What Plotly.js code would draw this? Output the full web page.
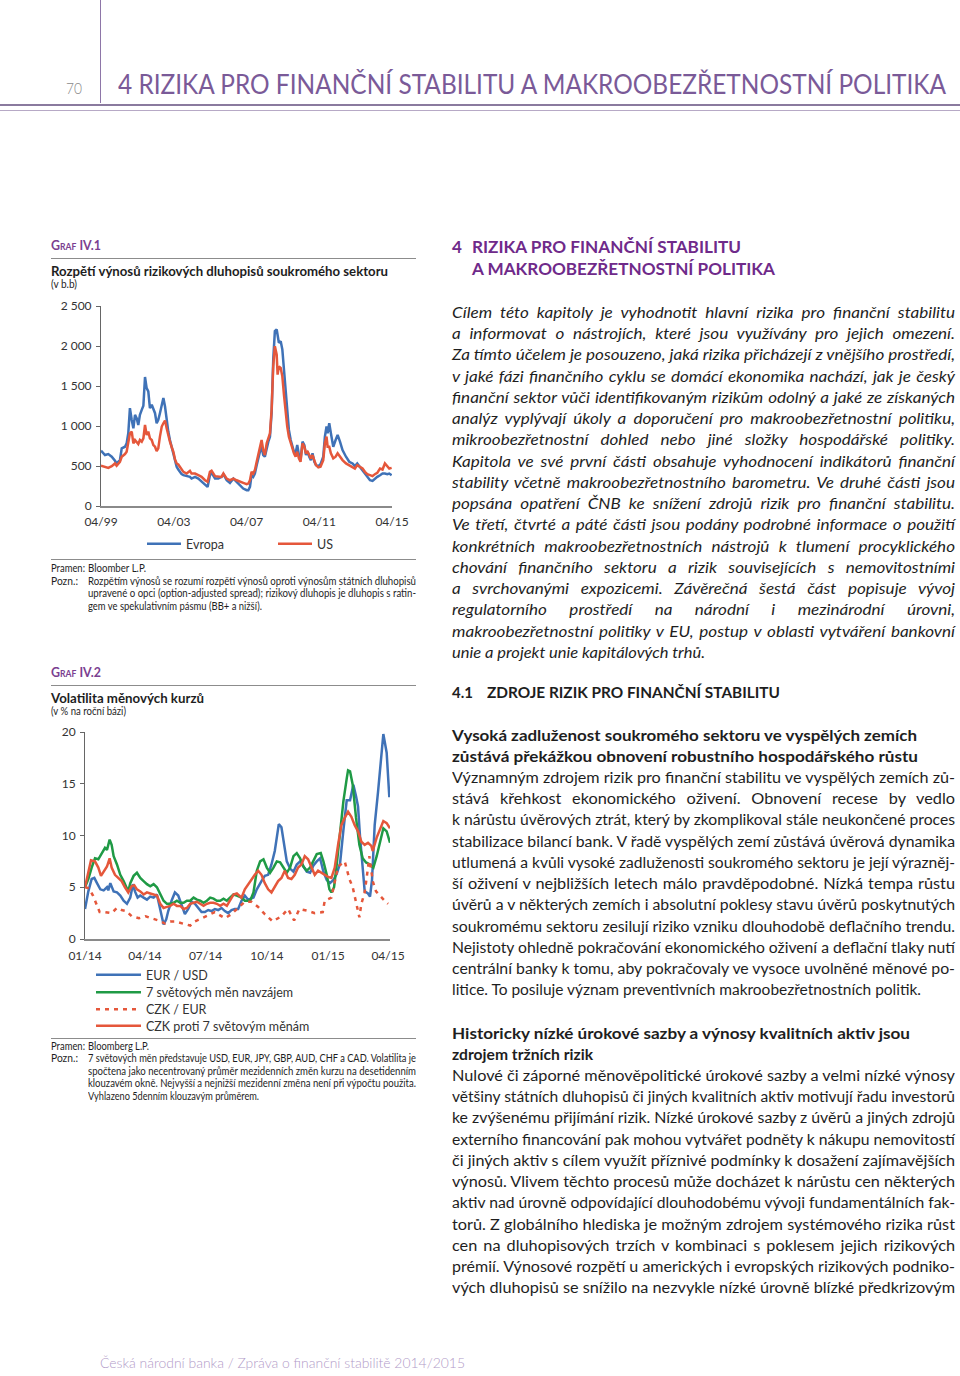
<!DOCTYPE html>
<html><head><meta charset="utf-8">
<script src="https://cdn.plot.ly/plotly-3.0.1.min.js"></script>
<style>
html,body{margin:0;padding:0;background:#fff;}
#page{position:relative;width:960px;height:1376px;overflow:hidden;font-family:Lato,"Open Sans",sans-serif;color:#1e1e1e;}
.t{position:absolute;white-space:nowrap;}
.t span{display:inline-block;transform-origin:0 50%;}
.rule{position:absolute;}
.pl{position:absolute;}
</style></head><body><div id="page">
<div class="pl" id="chart1" style="left:0;top:290px;width:440px;height:270px"></div>
<div class="pl" id="chart2" style="left:0;top:720px;width:440px;height:330px"></div>
</div>
<script>
// ---------- Graf IV.1 data (decimal years, basis points) ----------
const spreadYears = [1999.25,1999.47,1999.65,1999.84,2000.02,2000.11,2000.29,2000.39,2000.57,2000.66,
2000.75,2000.84,2000.94,2001.03,2001.12,2001.21,2001.30,2001.39,2001.49,2001.58,
2001.67,2001.76,2001.85,2001.94,2002.04,2002.13,2002.22,2002.31,2002.40,2002.49,
2002.59,2002.68,2002.77,2002.86,2002.95,2003.04,2003.13,2003.23,2003.32,2003.41,
2003.50,2003.59,2003.68,2003.78,2003.96,2004.14,2004.23,2004.42,2004.60,2004.78,
2004.97,2005.11,2005.24,2005.33,2005.52,2005.70,2005.88,2005.98,2006.16,2006.34,
2006.53,2006.71,2006.89,2007.07,2007.26,2007.35,2007.44,2007.53,2007.62,2007.71,
2007.81,2007.90,2007.99,2008.08,2008.17,2008.26,2008.36,2008.45,2008.54,2008.63,
2008.72,2008.81,2008.91,2008.96,2009.03,2009.13,2009.22,2009.31,2009.40,2009.49,
2009.58,2009.68,2009.77,2009.86,2009.95,2010.04,2010.13,2010.22,2010.33,2010.43,
2010.52,2010.61,2010.70,2010.79,2010.88,2010.98,2011.07,2011.20,2011.32,2011.47,
2011.56,2011.65,2011.71,2011.80,2011.89,2012.02,2012.15,2012.26,2012.39,2012.53,
2012.72,2012.90,2013.08,2013.21,2013.34,2013.49,2013.63,2013.76,2013.89,2014.04,
2014.18,2014.31,2014.44,2014.59,2014.73,2014.86,2014.99,2015.10,2015.23];
const spreadEvropa = [691,637,649,616,565,532,574,720,741,783,
909,1223,1076,972,1139,1097,1013,1139,1202,1252,
1612,1474,1432,1223,1265,1223,1160,1034,1076,1160,
1244,1349,1244,1055,930,825,741,637,553,490,
456,427,398,385,377,364,343,364,343,302,
272,239,385,415,343,343,364,398,322,289,
343,302,260,218,197,197,239,385,364,406,
511,616,678,741,637,616,741,804,867,1160,
1830,2186,2207,2123,2040,2061,1956,1705,1453,1160,
951,825,741,678,658,762,637,574,804,762,
637,678,616,574,658,553,511,498,523,616,
867,993,909,1034,909,741,825,888,804,699,
616,553,532,498,532,490,448,406,364,322,
314,343,364,385,406,406,398,406,385];
const spreadUS = [503,490,477,498,532,503,553,616,649,678,
825,909,930,783,825,804,775,825,804,846,
1013,888,930,846,825,762,741,687,720,867,
993,1034,1068,972,867,804,741,678,582,532,
519,490,448,427,406,440,406,406,385,364,
322,302,427,440,373,364,364,406,343,322,
343,322,302,289,272,281,322,427,406,448,
553,658,741,825,699,637,783,846,909,1202,
1746,1998,1893,1642,1746,1725,1621,1390,1181,993,
867,783,720,658,616,678,595,553,783,741,
658,678,637,595,637,574,511,482,490,574,
783,867,741,741,658,595,616,658,616,574,
532,511,490,469,511,490,469,427,398,385,
373,398,415,469,456,532,490,469,477];
const spreadTickVals = [1999.25,2003.25,2007.25,2011.25,2015.25];
const spreadTickText = ['04/99','04/03','04/07','04/11','04/15'];
const spreadYTicks = [0,500,1000,1500,2000,2500];
const spreadYText = ['0','500','1 000','1 500','2 000','2 500'];

// ---------- Graf IV.2 data (days since 1.1.2014, % p.a.) ----------
const eurUsdDays = [0,5,10,14,18,23,28,33,35,38,43,48,53,58,63,68,72,75,79,83,
88,93,98,103,108,113,118,122,125,130,135,140,145,150,155,160,165,170,175,180,
185,190,195,200,205,210,215,220,225,230,235,240,245,253,258,265,270,275,280,285,
288,291,295,299,303,308,313,318,323,328,333,338,343,348,353,358,363,368,373,378,
383,388,393,398,403,407,410,413,416,420,425,428,431,435,440,444,448,453,457];
const eurUsdVol = [2.9,4.6,5.8,5.9,5.4,4.8,4.7,5.0,4.7,5.4,
4.6,4.5,4.2,3.7,3.4,4.0,5.3,4.6,4.0,4.2,
4.0,3.8,4.1,4.0,4.3,2.9,1.4,1.9,2.7,3.7,
4.5,4.2,3.2,2.4,2.9,3.6,3.4,3.0,2.6,2.6,
2.8,2.7,2.9,2.8,3.0,2.7,2.5,2.8,2.9,2.9,
3.7,4.2,3.8,4.0,4.8,5.6,6.1,6.2,7.2,8.5,
9.8,11.1,10.8,9.0,7.5,6.8,6.5,7.2,7.5,7.0,
6.5,6.4,7.1,7.5,7.8,6.5,5.7,5.4,5.7,6.3,
7.3,10.5,13.4,13.4,14.9,13.8,12.8,9.9,7.6,4.6,
4.4,4.1,5.7,11.0,14.2,17.4,19.8,18.0,13.7];
const world7Days = [0,5,10,15,20,25,30,33,37,40,43,48,53,58,63,65,68,73,78,83,
88,93,98,103,108,113,118,123,128,133,138,143,148,153,158,163,168,173,178,183,
188,193,198,203,208,213,218,223,228,235,240,248,253,258,263,268,273,278,283,288,
293,298,303,308,313,318,323,328,333,338,343,348,354,358,363,367,370,374,378,383,
388,393,395,398,402,407,412,417,422,428,433,438,443,448,453,458];
const world7Vol = [5.0,5.8,6.9,7.8,7.7,8.3,8.8,8.6,9.6,9.1,
8.0,7.2,6.2,5.6,4.8,4.6,5.4,6.1,6.4,5.9,
5.6,5.3,5.1,5.3,5.0,4.3,3.7,3.4,3.4,3.5,
3.7,3.5,3.5,3.7,3.7,4.0,3.8,3.7,3.5,3.7,
4.0,3.9,3.7,3.7,3.9,3.7,4.0,4.3,4.2,4.0,
3.7,3.7,4.5,6.6,7.5,7.7,6.9,6.4,6.9,7.5,
7.4,6.9,6.4,6.9,8.0,8.3,7.8,7.0,6.6,6.9,
7.5,8.2,8.3,7.5,6.2,4.8,4.5,5.0,7.2,10.1,
13.3,15.5,16.3,16.2,14.9,11.7,9.1,7.8,7.4,7.2,
6.9,8.0,9.3,10.7,10.4,9.3];
const czkEurDays = [0,6,12,17,22,30,40,48,55,62,70,81,91,100,110,120,128,135,148,158,
165,175,183,195,210,220,228,240,250,260,270,282,295,305,314,322,336,345,357,360,
370,375,380,390,397,402,407,412,415,420,425,427,432,437,450,455];
const czkEurVol = [5.0,4.9,4.2,3.4,2.6,2.6,2.5,3.0,2.8,2.7,
2.2,2.0,2.2,2.0,1.8,1.5,1.7,1.7,1.5,1.3,
1.7,2.0,2.3,2.6,2.0,2.4,2.9,3.6,3.6,3.1,
2.4,1.7,2.2,2.9,1.8,2.9,2.7,2.5,2.6,3.7,
4.0,5.6,7.0,7.5,5.8,5.0,3.4,2.1,3.4,4.5,
6.9,8.0,5.6,4.6,3.7,3.4];
const czk7Days = [0,5,9,15,20,24,29,33,37,40,45,50,55,60,65,70,74,78,83,88,
93,98,103,108,113,118,123,128,133,138,143,148,153,158,163,168,173,178,183,188,
193,198,203,208,213,218,223,228,230,235,240,245,250,255,260,265,270,275,
280,285,290,295,300,305,310,315,320,325,330,335,340,345,350,355,360,365,370,375,
380,385,390,395,400,405,410,415,420,425,430,432,438,443,448,453,458];
const czk7Vol = [5.0,6.4,7.6,7.5,6.9,6.1,6.6,7.0,7.8,6.9,
6.2,5.9,5.6,5.0,4.5,5.1,5.2,4.8,4.6,4.3,
4.5,4.4,4.3,4.2,3.4,3.0,3.1,3.2,3.4,3.2,
3.2,2.9,3.0,3.4,3.5,3.6,3.4,3.2,3.4,3.5,
3.5,3.4,3.2,3.4,3.2,3.8,4.3,4.4,
4.3,4.0,4.8,5.3,5.8,6.2,6.6,6.2,5.4,4.8,
4.5,5.0,5.6,5.9,6.6,5.9,5.8,6.2,6.9,7.2,
8.0,7.7,6.9,6.2,6.6,6.4,6.2,6.0,5.9,6.9,
9.1,11.0,11.7,12.3,11.8,11.0,10.4,9.4,9.1,9.3,
9.0,8.5,9.8,10.7,11.4,11.2,10.7];
const volTickVals = [0,90,181,273,365,455];
const volTickText = ['01/14','04/14','07/14','10/14','01/15','04/15'];
const volSeriesNames = ['EUR / USD','7 světových měn navzájem','CZK / EUR','CZK proti 7 světovým měnám'];

const BLUE='#3f72b7', RED='#e5573b', GREEN='#1f9a45';
const FONT='Lato, "Open Sans", sans-serif';

// ---------- page text ----------
const page=document.getElementById('page');
function rule(x,y,w,h,c){const d=document.createElement('div');d.className='rule';
 Object.assign(d.style,{left:x+'px',top:y+'px',width:w+'px',height:h+'px',background:c});page.appendChild(d);}
const ST={
 head:{fs:26,fw:400,c:'#7a5a98'},
 pnum:{fs:16,fw:300,c:'#8a8a8a'},
 foot:{fs:14,fw:300,c:'#b29bc8'},
 graf:{fs:13,fw:700,c:'#7b3f91',sc:true},
 ctit:{fs:13.5,fw:700,c:'#1e1e1e'},
 unit:{fs:10.5,fw:400,c:'#1e1e1e'},
 note:{fs:11.5,fw:400,c:'#1e1e1e',mx:1.0},
 rhead:{fs:17,fw:700,c:'#6f2a8a'},
 sec:{fs:15,fw:700,c:'#1e1e1e'},
 sub:{fs:15.5,fw:700,c:'#1e1e1e'},
 ital:{fs:15.5,fw:400,it:true,c:'#1e1e1e',mx:1.1},
 body:{fs:15.5,fw:400,c:'#1e1e1e',mx:1.05}
};
function put(x,yc,w,txt,st,just){
 const d=document.createElement('div');d.className='t';
 Object.assign(d.style,{left:x+'px',top:(yc-0.65*st.fs)+'px',fontSize:st.fs+'px',lineHeight:(1.2*st.fs)+'px',
  fontWeight:st.fw,fontStyle:st.it?'italic':'normal',color:st.c,fontVariant:st.sc?'small-caps':'normal'});
 const s=document.createElement('span');s.textContent=txt;d.appendChild(s);page.appendChild(d);
 if(w){const nat=s.getBoundingClientRect().width;
  const n=(txt.match(/ /g)||[]).length;
  if(just&&nat<w&&n){
   const sc=Math.min(w/nat,st.mx||1);
   s.style.transform='scaleX('+sc+')';
   s.style.wordSpacing=((w/sc-nat)/n)+'px';
  } else if(nat>0){s.style.transform='scaleX('+(w/nat)+')';}}
}
// header
rule(100,0,1,103,'#8e76a8');
rule(0,104,960,1.5,'#8a7a9e');
rule(0,110,960,1,'#b7a9c6');
put(66,88,16,'70',ST.pnum,false);
put(118,86,828,'4 RIZIKA PRO FINANČNÍ STABILITU A MAKROOBEZŘETNOSTNÍ POLITIKA',ST.head,false);
put(100,1364,365,'Česká národní banka / Zpráva o finanční stabilitě 2014/2015',ST.foot,false);
// left column – graf IV.1
put(51,246,50,'Graf IV.1',ST.graf,false);
rule(51,257.5,365,1,'#8c8c8c');
put(51,272,337,'Rozpětí výnosů rizikových dluhopisů soukromého sektoru',ST.ctit,false);
put(51,285,26,'(v b.b)',ST.unit,false);
rule(51,559,365,1,'#8c8c8c');
put(51,568,34,'Pramen:',ST.note,false);
put(88,568,58,'Bloomber L.P.',ST.note,false);
put(51,581,27,'Pozn.:',ST.note,false);
const note1=['Rozpětím výnosů se rozumí rozpětí výnosů oproti výnosům státních dluhopisů',
 'upravené o opci (option-adjusted spread); rizikový dluhopis je dluhopis s ratin-',
 'gem ve spekulativním pásmu (BB+ a nižší).'];
put(88,581,328,note1[0],ST.note,true);
put(88,593.5,328,note1[1],ST.note,true);
put(88,606,174,note1[2],ST.note,false);
// left column – graf IV.2
put(51,673,50,'Graf IV.2',ST.graf,false);
rule(51,684.5,365,1,'#8c8c8c');
put(51,699,153,'Volatilita měnových kurzů',ST.ctit,false);
put(51,712,75,'(v % na roční bázi)',ST.unit,false);
rule(51,1037.5,365,1,'#8c8c8c');
put(51,1046,34,'Pramen:',ST.note,false);
put(88,1046,61,'Bloomberg L.P.',ST.note,false);
put(51,1058.5,27,'Pozn.:',ST.note,false);
const note2=['7 světových měn představuje USD, EUR, JPY, GBP, AUD, CHF a CAD. Volatilita je',
 'spočtena jako necentrovaný průměr mezidenních změn kurzu na desetidenním',
 'klouzavém okně. Nejvyšší a nejnižší mezidenní změna není při výpočtu použita.',
 'Vyhlazeno 5denním klouzavým průměrem.'];
put(88,1058.5,328,note2[0],ST.note,true);
put(88,1071,328,note2[1],ST.note,true);
put(88,1083.5,328,note2[2],ST.note,true);
put(88,1096,171,note2[3],ST.note,false);
// right column
put(452,248,null,'4',ST.rhead,false);
put(472,248,269,'RIZIKA PRO FINANČNÍ STABILITU',ST.rhead,false);
put(472,270,303,'A MAKROOBEZŘETNOSTNÍ POLITIKA',ST.rhead,false);
const intro=['Cílem této kapitoly je vyhodnotit hlavní rizika pro finanční stabilitu',
'a informovat o nástrojích, které jsou využívány pro jejich omezení.',
'Za tímto účelem je posouzeno, jaká rizika přicházejí z vnějšího prostředí,',
'v jaké fázi finančního cyklu se domácí ekonomika nachází, jak je český',
'finanční sektor vůči identifikovaným rizikům odolný a jaké ze získaných',
'analýz vyplývají úkoly a doporučení pro makroobezřetnostní politiku,',
'mikroobezřetnostní dohled nebo jiné složky hospodářské politiky.',
'Kapitola ve své první části obsahuje vyhodnocení indikátorů finanční',
'stability včetně makroobezřetnostního barometru. Ve druhé části jsou',
'popsána opatření ČNB ke snížení zdrojů rizik pro finanční stabilitu.',
'Ve třetí, čtvrté a páté části jsou podány podrobné informace o použití',
'konkrétních makroobezřetnostních nástrojů k tlumení procyklického',
'chování finančního sektoru a rizik souvisejících s nemovitostními',
'a svrchovanými expozicemi. Závěrečná šestá část popisuje vývoj',
'regulatorního prostředí na národní i mezinárodní úrovni,',
'makroobezřetnostní politiky v EU, postup v oblasti vytváření bankovní',
'unie a projekt unie kapitálových trhů.'];
intro.forEach((t,i)=>{const last=i===intro.length-1;put(452,313+21.25*i,last?253:503,t,ST.ital,!last);});
put(452,693,null,'4.1',ST.sec,false);
put(487,693,293,'ZDROJE RIZIK PRO FINANČNÍ STABILITU',ST.sec,false);
put(452,736,465,'Vysoká zadluženost soukromého sektoru ve vyspělých zemích',ST.sub,false);
put(452,757,466,'zůstává překážkou obnovení robustního hospodářského růstu',ST.sub,false);
const parA=['Významným zdrojem rizik pro finanční stabilitu ve vyspělých zemích zů-',
'stává křehkost ekonomického oživení. Obnovení recese by vedlo',
'k nárůstu úvěrových ztrát, který by zkomplikoval stále neukončené proces',
'stabilizace bilancí bank. V řadě vyspělých zemí zůstává úvěrová dynamika',
'utlumená a kvůli vysoké zadluženosti soukromého sektoru je její výrazněj-',
'ší oživení v nejbližších letech málo pravděpodobné. Nízká tempa růstu',
'úvěrů a v některých zemích i absolutní poklesy stavu úvěrů poskytnutých',
'soukromému sektoru zesilují riziko vzniku dlouhodobě deflačního trendu.',
'Nejistoty ohledně pokračování ekonomického oživení a deflační tlaky nutí',
'centrální banky k tomu, aby pokračovaly ve vysoce uvolněné měnové po-',
'litice. To posiluje význam preventivních makroobezřetnostních politik.'];
parA.forEach((t,i)=>{const last=i===parA.length-1;put(452,778+21.25*i,last?469:503,t,ST.body,!last);});
put(452,1034,458,'Historicky nízké úrokové sazby a výnosy kvalitních aktiv jsou',ST.sub,false);
put(452,1055,141,'zdrojem tržních rizik',ST.sub,false);
const parB=['Nulové či záporné měnověpolitické úrokové sazby a velmi nízké výnosy',
'většiny státních dluhopisů či jiných kvalitních aktiv motivují řadu investorů',
'ke zvýšenému přijímání rizik. Nízké úrokové sazby z úvěrů a jiných zdrojů',
'externího financování pak mohou vytvářet podněty k nákupu nemovitostí',
'či jiných aktiv s cílem využít příznivé podmínky k dosažení zajímavějších',
'výnosů. Vlivem těchto procesů může docházet k nárůstu cen některých',
'aktiv nad úrovně odpovídající dlouhodobému vývoji fundamentálních fak-',
'torů. Z globálního hlediska je možným zdrojem systémového rizika růst',
'cen na dluhopisových trzích v kombinaci s poklesem jejich rizikových',
'prémií. Výnosové rozpětí u amerických i evropských rizikových podniko-',
'vých dluhopisů se snížilo na nezvykle nízké úrovně blízké předkrizovým'];
parB.forEach((t,i)=>put(452,1076+21.25*i,503,t,ST.body,true));

// ---------- charts ----------
const tickFont={family:FONT,size:12,color:'#333'};
const legBase={xanchor:'left',yanchor:'middle',bgcolor:'rgba(0,0,0,0)',font:{family:FONT,size:12.5,color:'#333'},itemwidth:30};
const pw1=291, ph1=200;
Plotly.newPlot('chart1',[
 {x:spreadYears,y:spreadEvropa,name:'Evropa',type:'scatter',mode:'lines',line:{color:BLUE,width:2.5},legend:'legend'},
 {x:spreadYears,y:spreadUS,name:'US',type:'scatter',mode:'lines',line:{color:RED,width:2.5},legend:'legend2'}
],{
 width:440,height:270,margin:{l:101,r:48,t:16,b:54,autoexpand:false},
 paper_bgcolor:'rgba(0,0,0,0)',plot_bgcolor:'rgba(0,0,0,0)',font:tickFont,showlegend:true,
 xaxis:{range:[1999.25,2015.25],tickmode:'array',tickvals:spreadTickVals,ticktext:spreadTickText,showline:true,linecolor:'#8a8a8a',linewidth:1.5,ticks:'',showgrid:false,zeroline:false,ticklabelstandoff:4,tickfont:tickFont},
 yaxis:{range:[0,2500],tickmode:'array',tickvals:spreadYTicks,ticktext:spreadYText,ticks:'outside',ticklen:4,tickcolor:'#666',showline:true,linecolor:'#666',linewidth:1,showgrid:false,zeroline:false,tickfont:tickFont,ticklabelstandoff:2},
 legend:Object.assign({},legBase,{x:(142-101)/pw1,y:(506-544)/ph1,itemwidth:34}),
 legend2:Object.assign({},legBase,{x:(273-101)/pw1,y:(506-544)/ph1,itemwidth:34})
},{staticPlot:true,displayModeBar:false});

const pw2=305, ph2=207;
const legY=[975,992.5,1009.5,1026];
function leg(i){return Object.assign({},legBase,{x:(91-85)/pw2,y:(939-legY[i])/ph2,itemwidth:45});}
Plotly.newPlot('chart2',[
 {x:eurUsdDays,y:eurUsdVol,name:volSeriesNames[0],type:'scatter',mode:'lines',line:{color:BLUE,width:2.5},legend:'legend'},
 {x:world7Days,y:world7Vol,name:volSeriesNames[1],type:'scatter',mode:'lines',line:{color:GREEN,width:2.5},legend:'legend2'},
 {x:czkEurDays,y:czkEurVol,name:volSeriesNames[2],type:'scatter',mode:'lines',line:{color:RED,width:2.5,dash:'4px,5px'},legend:'legend3'},
 {x:czk7Days,y:czk7Vol,name:volSeriesNames[3],type:'scatter',mode:'lines',line:{color:RED,width:2.5},legend:'legend4'}
],{
 width:440,height:330,margin:{l:85,r:50,t:12,b:111,autoexpand:false},
 paper_bgcolor:'rgba(0,0,0,0)',plot_bgcolor:'rgba(0,0,0,0)',font:tickFont,showlegend:true,
 xaxis:{range:[0,458],tickmode:'array',tickvals:volTickVals,ticktext:volTickText,showline:true,linecolor:'#8a8a8a',linewidth:1.5,ticks:'',showgrid:false,zeroline:false,ticklabelstandoff:5,tickfont:tickFont},
 yaxis:{range:[0,20],tickmode:'array',tickvals:[0,5,10,15,20],ticktext:['0','5','10','15','20'],ticks:'outside',ticklen:4,tickcolor:'#666',showline:true,linecolor:'#666',linewidth:1,showgrid:false,zeroline:false,tickfont:tickFont,ticklabelstandoff:2},
 legend:leg(0),legend2:leg(1),legend3:leg(2),legend4:leg(3)
},{staticPlot:true,displayModeBar:false});
</script>
</body></html>
